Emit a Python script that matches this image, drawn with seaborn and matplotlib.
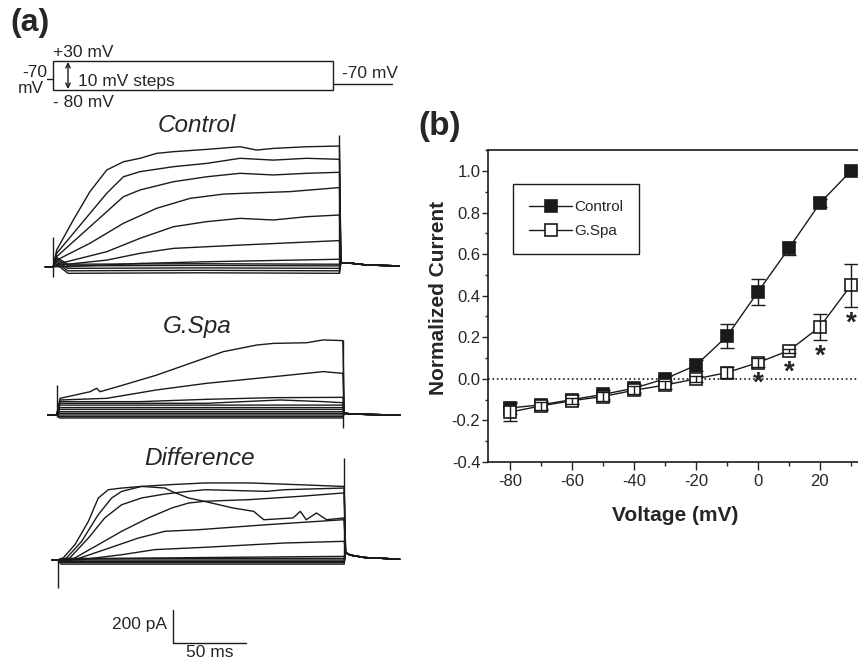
import pandas as pd
import matplotlib
matplotlib.use("Agg")
import matplotlib.pyplot as plt
import seaborn as sns
from matplotlib.patches import Rectangle
from matplotlib.ticker import MultipleLocator

# ---- (b) I-V data ----
voltage = [-80, -70, -60, -50, -40, -30, -20, -10, 0, 10, 20, 30]
ctrl_mean = [-0.14, -0.125, -0.10, -0.075, -0.045, 0.0, 0.065, 0.205, 0.418, 0.628, 0.845, 1.0]
ctrl_err = [0.03, 0.02, 0.02, 0.02, 0.02, 0.015, 0.025, 0.057, 0.062, 0.03, 0.02, 0.01]
gspa_mean = [-0.16, -0.13, -0.105, -0.085, -0.055, -0.03, 0.0, 0.03, 0.078, 0.136, 0.25, 0.45]
gspa_err = [0.045, 0.02, 0.015, 0.02, 0.02, 0.02, 0.015, 0.027, 0.022, 0.01, 0.064, 0.103]
star_v = [0, 10, 20, 30]
star_y = [-0.025, 0.028, 0.108, 0.268]

# ---- (a) current traces, time (ms) and current (pA) during the step ----
ctrl_t = [
    [2.3, 13.7, 25.1, 36.6, 48, 59.4, 70.8, 82.2, 105, 127.9, 139.3, 150.7, 173.5, 195.2],
    [2.3, 13.7, 25.1, 36.6, 48, 59.4, 82.2, 105, 127.9, 150.7, 173.5, 195.2],
    [2.3, 25.1, 48, 59.4, 82.2, 105, 127.9, 150.7, 173.5, 195.2],
    [2.3, 25.1, 48, 70.8, 93.6, 116.5, 139.3, 162.1, 195.2],
    [4.6, 36.6, 59.4, 82.2, 105, 127.9, 150.7, 173.5, 195.2],
    [4.6, 36.6, 59.4, 82.2, 127.9, 195.2],
    [9.2, 59.4, 105, 195.2],
    [1.5, 10, 100, 195], [1.5, 10, 100, 195], [1.5, 10, 100, 195],
    [1.5, 10, 100, 195], [1.5, 10, 100, 195],
]
ctrl_i = [
    [101, 283, 455, 586, 636, 657, 687, 697, 711, 727, 707, 717, 727, 731],
    [81, 202, 323, 445, 545, 576, 606, 626, 657, 646, 657, 651],
    [61, 242, 424, 465, 515, 545, 566, 556, 566, 572],
    [40, 142, 263, 354, 414, 440, 448, 455, 479],
    [20, 91, 172, 242, 273, 293, 283, 303, 313],
    [10, 40, 81, 111, 131, 158],
    [0, 20, 30, 45],
    [60, 15, 18, 15], [50, 5, 8, 5], [40, -10, -7, -10],
    [30, -25, -22, -25], [20, -40, -37, -40],
]
ctrl_tail_t = [197, 205, 215, 237]
ctrl_tail_i = [25, 20, 10, 5]
ctrl_art_t = [0, 196]
ctrl_art_lo = [-61, -38]
ctrl_art_hi = [182, 800]

gspa_t = [
    [2.3, 22.8, 27.4, 29.7, 45.7, 68.5, 91.3, 114.2, 137, 148.4, 171.2, 182.6, 195.2],
    [2.3, 34.2, 68.5, 102.7, 125.6, 148.4, 182.6, 195.2],
    [2.3, 57.1, 102.7, 148.4, 195.2],
    [2.3, 102.7, 153, 182.6, 195.2],
    [2, 195], [2, 195], [2, 195], [2, 195], [2, 195], [2, 195], [2, 195], [2, 195],
]
gspa_i = [
    [101, 141, 162, 141, 182, 242, 313, 384, 424, 434, 438, 455, 451],
    [91, 101, 152, 192, 212, 232, 263, 253],
    [81, 81, 95, 105, 107],
    [71, 71, 91, 81, 75],
    [60, 60], [45, 45], [34, 34], [20, 20], [10, 10], [0, 0], [-10, -10], [-18, -18],
]
gspa_tail_t = [197, 205, 215, 235]
gspa_tail_i = [10, 5, 3, 0]
gspa_art_t = [0, 196]
gspa_art_lo = [-12, -79]
gspa_art_hi = [182, 455]

diff_t = [
    [2.5, 11.6, 20.8, 27.6, 34.5, 43.6, 57.3, 73.3, 77.9, 89.3, 100, 120, 134, 141, 161, 166, 170, 177, 184, 196],
    [4.8, 16.2, 27.6, 36.8, 43.6, 57.3, 75.6, 100.7, 131.5, 166, 195],
    [7, 20.8, 32, 43.6, 57.3, 73.3, 89.3, 100.7, 143, 155, 195],
    [9.4, 27.6, 43.6, 61.9, 77.9, 89.3, 100.7, 131.5, 166, 195],
    [11.6, 32, 55, 73.3, 97, 143, 195],
    [16.2, 43.6, 66.4, 100.7, 155, 195],
    [8, 100, 196],
    [2, 195], [2, 195], [2, 195], [2, 195], [2, 195],
]
diff_i = [
    [2, 93, 234, 376, 426, 436, 446, 436, 416, 376, 356, 315, 295, 244, 255, 295, 244, 285, 244, 255],
    [2, 113, 275, 376, 416, 446, 456, 467, 467, 456, 446],
    [2, 133, 255, 335, 376, 400, 416, 426, 416, 426, 436],
    [2, 93, 174, 255, 315, 345, 356, 366, 386, 406],
    [2, 63, 133, 174, 184, 214, 244],
    [2, 32, 63, 77, 103, 113],
    [5, 15, 22],
    [10, 10], [0, 0], [-8, -8], [-16, -16], [-25, -25],
]
diff_tail_t = [197, 200, 210, 234]
diff_tail_i = [45, 30, 15, 5]
diff_art_t = [0, 196]
diff_art_lo = [-170, 0]
diff_art_hi = [0, 618]

scale_ms = 50
scale_pa = 200

# ---- layout constants (pixels) ----
W, H = 858, 661
PX_MS = 1.46
PX_PA = 0.165

sns.set_theme(style="ticks")
plt.rcParams['font.family'] = ['Liberation Sans', 'DejaVu Sans']
plt.rcParams['axes.unicode_minus'] = False

fig = plt.figure(figsize=(W / 100, H / 100), dpi=100)

# overlay for labels and the voltage protocol sketch (pixel coordinates)
ov = fig.add_axes([0, 0, 1, 1], zorder=0)
ov.set_xlim(0, W)
ov.set_ylim(H, 0)
ov.axis('off')
ov.patch.set_alpha(0)

ov.text(30, 31, '(a)', fontsize=23, fontweight='bold', ha='center', va='baseline')
ov.text(440, 135, '(b)', fontsize=24, fontweight='bold', ha='center', va='baseline')

ov.add_patch(Rectangle((53.3, 61), 280, 29, fill=False, lw=1, ec='k'))
ov.plot([47, 53.3], [79, 79], color='k', lw=1)
ov.plot([333.3, 392], [84, 84], color='k', lw=1)
ov.annotate('', xy=(68, 62), xytext=(68, 89),
            arrowprops=dict(arrowstyle='<->', lw=1, color='k', shrinkA=0, shrinkB=0,
                            mutation_scale=8))
fs = 12.5
ov.text(53, 57, '+30 mV', fontsize=fs, ha='left', va='baseline')
ov.text(47, 77, '-70', fontsize=fs, ha='right', va='baseline')
ov.text(44, 93, 'mV', fontsize=fs, ha='right', va='baseline')
ov.text(53, 107, '- 80 mV', fontsize=fs, ha='left', va='baseline')
ov.text(78, 86, '10 mV steps', fontsize=fs, ha='left', va='baseline')
ov.text(342, 78, '-70 mV', fontsize=fs, ha='left', va='baseline')

ov.text(197, 132, 'Control', fontsize=17.5, fontstyle='italic', ha='center', va='baseline')
ov.text(197, 333, 'G.Spa', fontsize=17.5, fontstyle='italic', ha='center', va='baseline')
ov.text(200, 465, 'Difference', fontsize=17.5, fontstyle='italic', ha='center', va='baseline')


def trace_axes(t0_px, base_py, tlim=(-12, 245), ilim=(-650, 850)):
    left = t0_px + tlim[0] * PX_MS
    width = (tlim[1] - tlim[0]) * PX_MS
    bottom_py = base_py - ilim[0] * PX_PA
    height = (ilim[1] - ilim[0]) * PX_PA
    ax = fig.add_axes([left / W, 1 - bottom_py / H, width / W, height / H], zorder=1)
    ax.set_xlim(*tlim)
    ax.set_ylim(*ilim)
    ax.axis('off')
    ax.patch.set_alpha(0)
    return ax


def build(ts, cs, tail_t, tail_i, t_start):
    parts = []
    for k, (t, c) in enumerate(zip(ts, cs)):
        tt = [t_start, 0] + t + [196] + tail_t
        cc = [0, 0] + c + [c[-1]] + tail_i
        parts.append(pd.DataFrame({'t': tt, 'i': cc, 'trace': k}))
    return pd.concat(parts, ignore_index=True)


panels = [
    (53.3, 266.7, ctrl_t, ctrl_i, ctrl_tail_t, ctrl_tail_i, ctrl_art_t, ctrl_art_lo, ctrl_art_hi, -5.5),
    (56.7, 415.0, gspa_t, gspa_i, gspa_tail_t, gspa_tail_i, gspa_art_t, gspa_art_lo, gspa_art_hi, -6),
    (58.0, 560.0, diff_t, diff_i, diff_tail_t, diff_tail_i, diff_art_t, diff_art_lo, diff_art_hi, -4),
]
for t0, base, ts, cs, tt, ti, at, alo, ahi, tst in panels:
    ax = trace_axes(t0, base)
    df = build(ts, cs, tt, ti, tst)
    sns.lineplot(data=df, x='t', y='i', units='trace', estimator=None, sort=False,
                 color='k', lw=1.0, ax=ax, legend=False)
    ax.vlines(at, alo, ahi, color='k', lw=1)
    diff_ax = ax

# scale bar on the difference axes
sx, sy = 78.8, -503
diff_ax.plot([sx, sx, sx + scale_ms], [sy + scale_pa, sy, sy], color='k', lw=1)
diff_ax.text(sx - 4, sy + 0.55 * scale_pa, f'{scale_pa} pA', fontsize=fs, ha='right', va='center')
diff_ax.text(sx + scale_ms / 2, sy - 14, f'{scale_ms} ms', fontsize=fs, ha='center', va='top')

# ---- (b) I-V plot ----
axb = fig.add_axes([488 / W, 1 - 462 / H, (W - 488) / W, 312 / H], zorder=2)
axb.axhline(0, ls=':', color='k', lw=1.2, zorder=1)
sns.lineplot(x=voltage, y=ctrl_mean, marker='s', markersize=8, color='k', lw=1,
             markerfacecolor='k', markeredgecolor='k', markeredgewidth=1.2,
             label='Control', ax=axb, zorder=3)
axb.errorbar(voltage, ctrl_mean, yerr=ctrl_err, fmt='none', ecolor='k',
             elinewidth=1, capsize=5, capthick=1, zorder=4)
sns.lineplot(x=voltage, y=gspa_mean, marker='s', markersize=8, color='k', lw=1,
             markerfacecolor='white', markeredgecolor='k', markeredgewidth=1.2,
             label='G.Spa', ax=axb, zorder=5)
axb.errorbar(voltage, gspa_mean, yerr=gspa_err, fmt='none', ecolor='k',
             elinewidth=1, capsize=5, capthick=1, zorder=6)
for v, y in zip(star_v, star_y):
    axb.text(v, y, '*', fontsize=20, fontweight='bold', ha='center', va='center')

axb.set_xlim(-87.1, 32.3)
axb.set_ylim(-0.4, 1.101)
axb.xaxis.set_major_locator(MultipleLocator(20))
axb.xaxis.set_minor_locator(MultipleLocator(10))
axb.yaxis.set_major_locator(MultipleLocator(0.2))
axb.yaxis.set_minor_locator(MultipleLocator(0.1))
axb.yaxis.set_major_formatter(matplotlib.ticker.FormatStrFormatter('%.1f'))
axb.tick_params(axis='x', which='major', direction='out', length=6, width=1, labelsize=12, pad=3)
axb.tick_params(axis='x', which='minor', direction='out', length=3, width=1)
axb.tick_params(axis='y', which='major', direction='out', length=4.5, width=1, labelsize=12, pad=1)
axb.tick_params(axis='y', which='minor', direction='out', length=2.5, width=1)
for side in ['left', 'bottom', 'top']:
    axb.spines[side].set_visible(True)
    axb.spines[side].set_linewidth(1.2)
    axb.spines[side].set_color('k')
axb.spines['right'].set_visible(False)
axb.set_facecolor('none')

axb.set_xlabel('Voltage (mV)', fontsize=15, fontweight='bold')
axb.set_ylabel('Normalized Current', fontsize=15, fontweight='bold')
axb.xaxis.set_label_coords(0.505, -0.141)
axb.yaxis.set_label_coords(-0.108, 0.525)

handles, labels = axb.get_legend_handles_labels()
leg = axb.legend(handles, labels, loc='upper left', bbox_to_anchor=(0.068, 0.891),
                 borderaxespad=0, fancybox=False, edgecolor='k', framealpha=1,
                 fontsize=11, handlelength=2.8, handletextpad=0.15, labelspacing=0.65,
                 borderpad=1.05)
leg.get_frame().set_linewidth(1)

fig.savefig('out.png', dpi=100)
